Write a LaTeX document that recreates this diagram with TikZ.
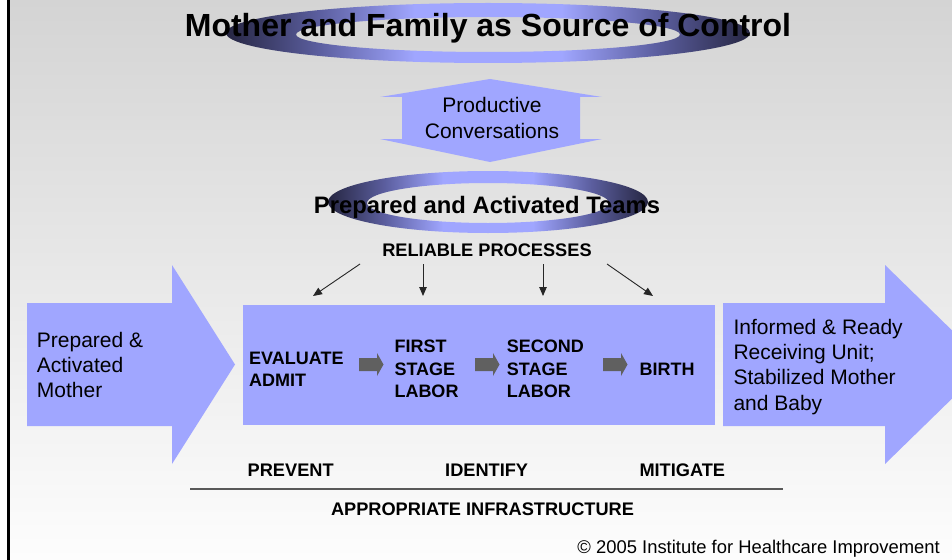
\documentclass[tikz,border=0pt]{standalone}
\usepackage{fontspec}
\setmainfont{Liberation Sans}
\usetikzlibrary{arrows.meta}
\definecolor{bgtop}{RGB}{212,212,212}
\definecolor{bgbot}{RGB}{253,253,253}
\definecolor{pblue}{RGB}{160,166,255}
\definecolor{rdark}{RGB}{38,38,66}
\definecolor{rmid}{RGB}{92,95,160}
\definecolor{blockgray}{RGB}{96,96,96}
\pgfdeclarehorizontalshading{ringshade}{100bp}{color(0bp)=(rdark); color(25bp)=(rdark); color(34bp)=(rmid); color(43bp)=(pblue); color(57bp)=(pblue); color(66bp)=(rmid); color(75bp)=(rdark); color(100bp)=(rdark)}
\tikzset{
  conn/.style={draw=black!85, line width=0.9pt, -{Triangle[length=9pt,width=7.5pt]}},
  bigtxt/.style={inner sep=0pt, font=\fontsize{21}{25.3}\selectfont, align=left},
  steptxt/.style={inner sep=0pt, font=\bfseries\fontsize{18}{22.3}\selectfont, align=left, anchor=base west},
  captxt/.style={inner sep=0pt, font=\bfseries\fontsize{18.2}{22}\selectfont},
  blockarrow/.style={fill=blockgray},
  ring/.style={shading=ringshade, even odd rule},
  bluefill/.style={fill=pblue}
}
\begin{document}
\begin{tikzpicture}[x=1pt,y=-1pt]
\useasboundingbox (0,0) rectangle (952,559);
\clip (0,0) rectangle (952,559);
\fill[white] (0,0) rectangle (952,559);
\shade[top color=bgtop,bottom color=bgbot] (10,0) rectangle (952,559);
\draw[line width=3pt] (8.5,-5) -- (8.5,565);

% top ring and title
\path[ring] (488,33) ellipse [x radius=262pt, y radius=30pt]
            (488,34.5) ellipse [x radius=192pt, y radius=17.5pt];
\node[inner sep=0pt, anchor=base, font=\bfseries\fontsize{32}{36}\selectfont] (title) at (488,37) {Mother and Family as Source of Control};

% double arrow
\path[bluefill] (490,79) -- (602,97) -- (580,97) -- (580,139) -- (602,139) -- (490,162)
  -- (380,139) -- (402,139) -- (402,97) -- (380,97) -- cycle;
\node[bigtxt, align=center, anchor=base] (conv) at (492,138) {Productive\\Conversations};

% second ring
\path[ring] (488,202) ellipse [x radius=160pt, y radius=31pt]
            (488,203) ellipse [x radius=121pt, y radius=20pt];
\node[inner sep=0pt, anchor=base, font=\bfseries\fontsize{23.8}{28}\selectfont] (teams) at (487,213) {Prepared and Activated Teams};

\node[captxt, anchor=base] (rel) at (487,256.5) {RELIABLE PROCESSES};

\coordinate (r1s) at (360,264); \coordinate (r1e) at (313,296);
\coordinate (r2s) at (423,264); \coordinate (r2e) at (423,296);
\coordinate (r3s) at (543,264); \coordinate (r3e) at (543,296);
\coordinate (r4s) at (607,264); \coordinate (r4e) at (653,296);
\draw[conn] (r1s) -- (r1e);
\draw[conn] (r2s) -- (r2e);
\draw[conn] (r3s) -- (r3e);
\draw[conn] (r4s) -- (r4e);

% left arrow
\path[bluefill] (27,303) -- (172,303) -- (172,265) -- (235,364.5) -- (172,464) -- (172,426) -- (27,426) -- cycle;
\node[bigtxt, anchor=base west] (mother) at (36.7,397.7) {Prepared \&\\Activated\\Mother};

% central box
\path[bluefill] (243,305) rectangle (715,425);
\node[steptxt] (eval) at (249,386.7) {EVALUATE\\ADMIT};
\node[steptxt] (first) at (394.3,397.3) {FIRST\\STAGE\\LABOR};
\node[steptxt] (second) at (506.7,397.3) {SECOND\\STAGE\\LABOR};
\node[steptxt] (birth) at (639.3,375) {BIRTH};
\foreach \dx in {0,116,244}{
  \path[blockarrow] (359+\dx,358) -- (377+\dx,358) -- (377+\dx,353) -- (383.5+\dx,364.5)
    -- (377+\dx,376) -- (377+\dx,371) -- (359+\dx,371) -- cycle;
}

% right arrow
\path[bluefill] (723,303) -- (885,303) -- (885,265) -- (987,364.5) -- (885,464) -- (885,426) -- (723,426) -- cycle;
\node[bigtxt, anchor=base west] (unit) at (733.3,410) {Informed \& Ready\\Receiving Unit;\\Stabilized Mother\\and Baby};

% bottom captions
\node[captxt, anchor=base west] (prev) at (247.5,476.5) {PREVENT};
\node[captxt, anchor=base west] (ident) at (445,476.5) {IDENTIFY};
\node[captxt, anchor=base west] (mitig) at (639.3,476.5) {MITIGATE};
\coordinate (ls) at (190,489); \coordinate (le) at (783,489);
\draw[line width=1.3pt, draw=black!65] (ls) -- (le);
\node[captxt, anchor=base] (infra) at (482.5,515.5) {APPROPRIATE INFRASTRUCTURE};
\node[inner sep=0pt, anchor=base east, font=\fontsize{18.4}{22}\selectfont] (copy) at (940,553) {© 2005 Institute for Healthcare Improvement};
\end{tikzpicture}
\end{document}
